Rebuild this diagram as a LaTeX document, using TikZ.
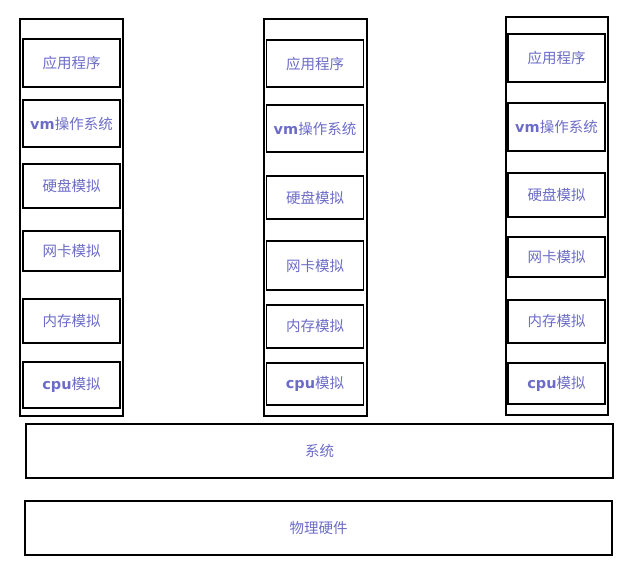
\documentclass[tikz,border=0pt]{standalone}
\usepackage{fontspec}
\newfontfamily\cjk{Noto Sans CJK SC}
\newfontfamily\lat{DejaVu Sans}
\usepackage{tikz}
\definecolor{labelblue}{RGB}{108,108,200}

\begin{document}
\begin{tikzpicture}[
            x = 1pt, y = -1pt, % one unit per pixel
            thick % line style
        ]

        \tikzstyle{layer}=[
            draw = black,
            line width = 1.6pt,
            rectangle,
            inner sep = 0pt,
            text = labelblue,
            font = \cjk\fontsize{14.5}{16}\selectfont,
            minimum width = 97pt
        ]
        \tikzstyle{column}=[
            draw = black,
            line width = 1.6pt,
            rectangle,
            inner sep = 0pt,
            minimum width = 103pt,
            minimum height = 397pt
        ]
        \newcommand{\vmtag}[1]{{\lat\bfseries #1}}

        \useasboundingbox (0,0) rectangle (633,586);

        % first column
        \node[column] (c1) at (71.5,217.5) {};
        \node[layer, minimum height=48pt] (a1) at (71.5,63)    {应用程序};
        \node[layer, minimum height=47pt] (v1) at (71.5,123.5) {\vmtag{vm}操作系统};
        \node[layer, minimum height=44pt] (d1) at (71.5,186)   {硬盘模拟};
        \node[layer, minimum height=40pt] (n1) at (71.5,251)   {网卡模拟};
        \node[layer, minimum height=44pt] (m1) at (71.5,321)   {内存模拟};
        \node[layer, minimum height=46pt] (p1) at (71.5,385)   {\vmtag{cpu}模拟};

        % second column
        \node[column] (c2) at (315.5,217.5) {};
        \node[layer, minimum height=47pt] (a2) at (315,63.5)  {应用程序};
        \node[layer, minimum height=47pt] (v2) at (315,128.5) {\vmtag{vm}操作系统};
        \node[layer, minimum height=43pt] (d2) at (315,197.5) {硬盘模拟};
        \node[layer, minimum height=49pt] (n2) at (315,265.5) {网卡模拟};
        \node[layer, minimum height=43pt] (m2) at (315,326.5) {内存模拟};
        \node[layer, minimum height=42pt] (p2) at (315,384)   {\vmtag{cpu}模拟};

        % third column
        \node[column, minimum width=102pt, minimum height=398pt] (c3) at (557,216) {};
        \node[layer, minimum height=48pt] (a3) at (556.5,58)    {应用程序};
        \node[layer, minimum height=48pt] (v3) at (556.5,127)   {\vmtag{vm}操作系统};
        \node[layer, minimum height=44pt] (d3) at (556.5,195)   {硬盘模拟};
        \node[layer, minimum height=40pt] (n3) at (556.5,257)   {网卡模拟};
        \node[layer, minimum height=43pt] (m3) at (556.5,321.5) {内存模拟};
        \node[layer, minimum height=41pt] (p3) at (556.5,383.5) {\vmtag{cpu}模拟};

        % host system and hardware
        \node[layer, minimum width=587pt, minimum height=54pt] (sys) at (319.5,451) {系统};
        \node[layer, minimum width=587pt, minimum height=54pt] (hw)  at (318.5,528) {物理硬件};

    \end{tikzpicture}
\end{document}
